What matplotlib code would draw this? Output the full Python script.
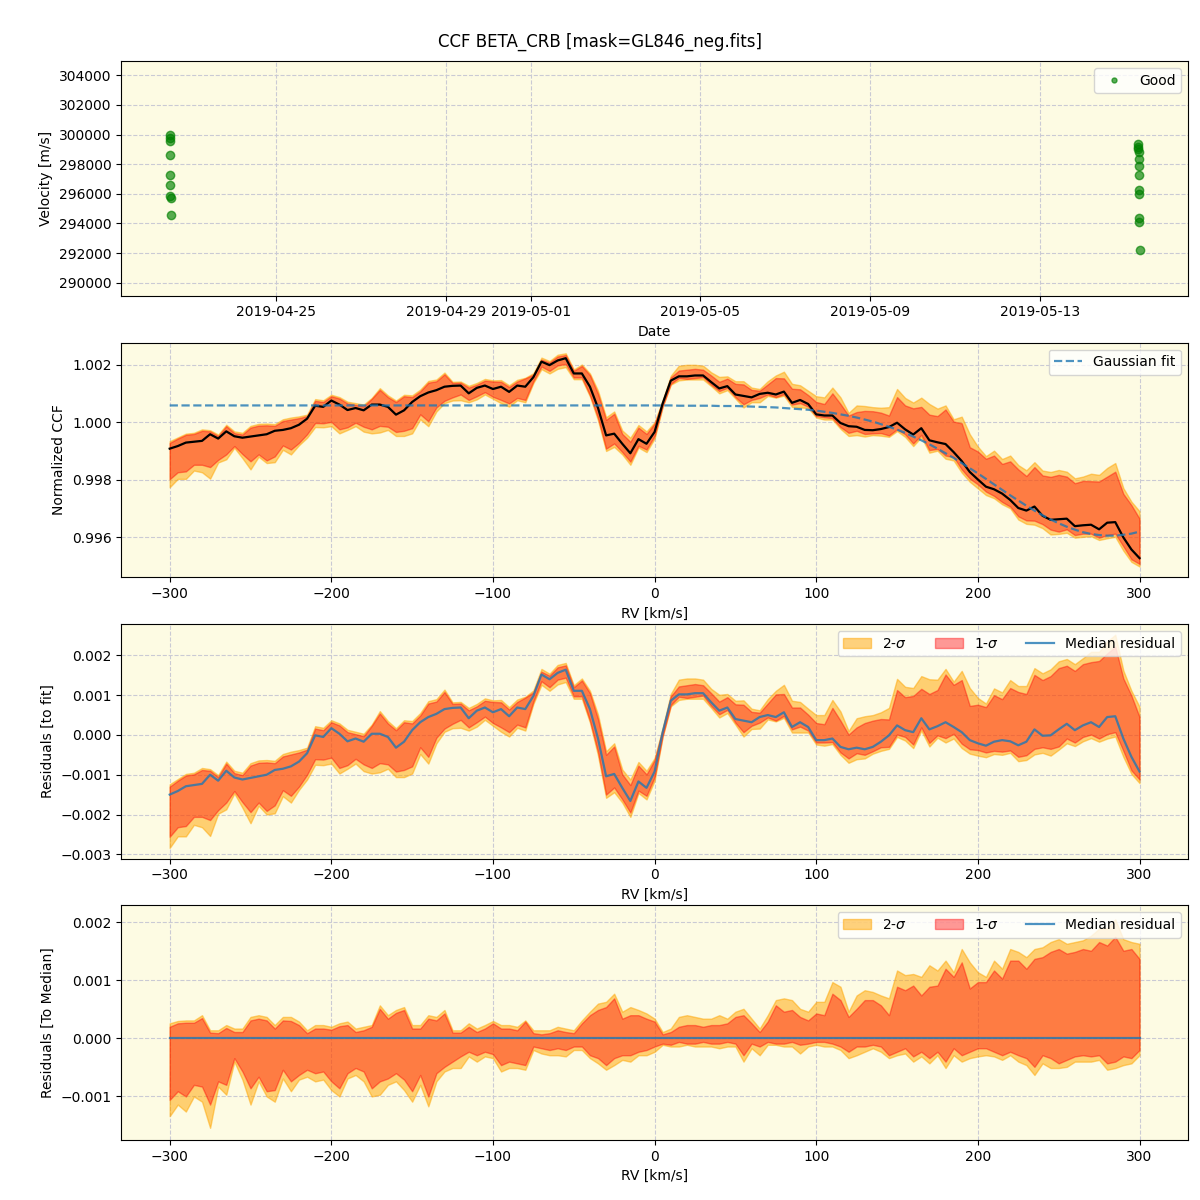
import numpy as np
import matplotlib
matplotlib.use("Agg")
import matplotlib.pyplot as plt
from matplotlib.ticker import MultipleLocator
from datetime import datetime

# --- RV time series (top panel) ---
dates_n1 = ["2019-04-22 11:40", "2019-04-22 11:44", "2019-04-22 11:48", "2019-04-22 11:52",
            "2019-04-22 11:56", "2019-04-22 12:00", "2019-04-22 12:04", "2019-04-22 12:08",
            "2019-04-22 12:12"]
vel_n1 = [299967, 299763, 299582, 298608, 297249, 296569, 295822, 295686, 294553]
dates_n2 = ["2019-05-15 07:50", "2019-05-15 07:54", "2019-05-15 07:58", "2019-05-15 08:02",
            "2019-05-15 08:06", "2019-05-15 08:10", "2019-05-15 08:14", "2019-05-15 08:18",
            "2019-05-15 08:22", "2019-05-15 08:26", "2019-05-15 08:30", "2019-05-15 08:34"]
vel_n2 = [299356, 299174, 299016, 298790, 298336, 297883, 297249, 296230, 296003,
          294372, 294100, 292220]

# --- CCF grid ---
rv = np.arange(-300, 301, 5)  # km/s

# gaussian fit (flat ~1.00058 left of 0 km/s)
gauss_fit = [1.00058] * 60 + [
    1.00058, 1.00058, 1.00058, 1.00057, 1.00057, 1.00057, 1.00057, 1.00057, 1.00056, 1.00056,
    1.00056, 1.00055, 1.00054, 1.00053, 1.00052, 1.00051, 1.00049, 1.00047, 1.00045, 1.00043,
    1.00040, 1.00036, 1.00032, 1.00027, 1.00022, 1.00016, 1.00009, 1.00002, 0.99993, 0.99984,
    0.99974, 0.99963, 0.99950, 0.99937, 0.99923, 0.99908, 0.99892, 0.99876, 0.99858, 0.99840,
    0.99822, 0.99803, 0.99784, 0.99765, 0.99746, 0.99728, 0.99710, 0.99693, 0.99677, 0.99662,
    0.99649, 0.99637, 0.99627, 0.99618, 0.99612, 0.99608, 0.99606, 0.99606, 0.99609, 0.99613,
    0.99620]

# median residual to fit, units of 1e-3
resid_med = [
    -1.50, -1.41, -1.29, -1.26, -1.23, -1.00, -1.15, -0.90, -1.07, -1.12,
    -1.08, -1.04, -1.00, -0.88, -0.85, -0.79, -0.67, -0.46, -0.01, -0.05,
    0.17, 0.03, -0.16, -0.09, -0.17, 0.03, 0.03, -0.05, -0.32, -0.17,
    0.12, 0.32, 0.45, 0.53, 0.65, 0.68, 0.69, 0.42, 0.61, 0.69,
    0.57, 0.65, 0.47, 0.69, 0.65, 0.98, 1.52, 1.40, 1.56, 1.64,
    1.11, 1.11, 0.65, -0.09, -1.04, -0.98, -1.33, -1.66, -1.17, -1.33,
    -0.92, 0.07, 0.86, 1.02, 1.02, 1.05, 1.05, 0.82, 0.61, 0.69,
    0.40, 0.36, 0.32, 0.45, 0.50, 0.45, 0.57, 0.20, 0.32, 0.20,
    -0.13, -0.13, -0.09, -0.30, -0.36, -0.32, -0.36, -0.30, -0.17, -0.01,
    0.24, 0.12, 0.07, 0.42, 0.14, 0.22, 0.32, 0.20, 0.07, -0.13,
    -0.21, -0.27, -0.17, -0.13, -0.16, -0.26, -0.17, 0.14, -0.02, -0.01,
    0.14, 0.28, 0.12, 0.24, 0.32, 0.20, 0.45, 0.47, -0.09, -0.55,
    -0.92]

# band edges relative to median, units of 1e-3
hi2 = [
    0.26, 0.30, 0.31, 0.31, 0.40, 0.14, 0.14, 0.23, 0.17, 0.17,
    0.37, 0.40, 0.37, 0.23, 0.37, 0.37, 0.29, 0.14, 0.23, 0.23,
    0.20, 0.26, 0.29, 0.17, 0.20, 0.23, 0.57, 0.40, 0.49, 0.54,
    0.23, 0.23, 0.40, 0.37, 0.49, 0.14, 0.14, 0.26, 0.17, 0.23,
    0.30, 0.23, 0.23, 0.20, 0.31, 0.14, 0.14, 0.14, 0.20, 0.17,
    0.14, 0.31, 0.46, 0.60, 0.63, 0.77, 0.46, 0.54, 0.49, 0.43,
    0.34, 0.11, 0.17, 0.37, 0.40, 0.37, 0.34, 0.34, 0.40, 0.34,
    0.46, 0.51, 0.34, 0.17, 0.40, 0.66, 0.69, 0.66, 0.51, 0.46,
    0.63, 0.63, 0.97, 0.89, 0.46, 0.74, 0.83, 0.80, 0.74, 0.69,
    1.17, 1.09, 1.11, 1.06, 1.26, 1.17, 1.34, 1.14, 1.54, 1.31,
    1.14, 1.06, 1.34, 1.20, 1.54, 1.49, 1.40, 1.54, 1.57, 1.66,
    1.71, 1.63, 1.66, 1.69, 1.77, 1.89, 1.90, 2.05, 1.71, 1.66,
    1.63]
hi1 = [
    0.20, 0.26, 0.27, 0.27, 0.35, 0.10, 0.09, 0.18, 0.11, 0.11,
    0.31, 0.34, 0.31, 0.17, 0.31, 0.30, 0.23, 0.09, 0.17, 0.17,
    0.15, 0.21, 0.23, 0.11, 0.14, 0.20, 0.51, 0.34, 0.44, 0.49,
    0.17, 0.17, 0.34, 0.31, 0.43, 0.10, 0.10, 0.20, 0.11, 0.17,
    0.26, 0.17, 0.17, 0.14, 0.29, 0.09, 0.07, 0.09, 0.14, 0.11,
    0.09, 0.26, 0.40, 0.49, 0.54, 0.69, 0.34, 0.40, 0.40, 0.34,
    0.29, 0.07, 0.11, 0.20, 0.23, 0.23, 0.20, 0.23, 0.23, 0.26,
    0.37, 0.40, 0.26, 0.11, 0.29, 0.57, 0.46, 0.49, 0.37, 0.31,
    0.43, 0.40, 0.77, 0.66, 0.37, 0.51, 0.66, 0.66, 0.57, 0.40,
    0.89, 0.83, 0.91, 0.74, 0.89, 0.91, 1.20, 1.06, 1.31, 0.86,
    0.97, 0.97, 1.17, 1.03, 1.34, 1.34, 1.20, 1.37, 1.40, 1.49,
    1.54, 1.46, 1.49, 1.54, 1.51, 1.66, 1.60, 1.75, 1.51, 1.54,
    1.37]
lo1 = [
    -1.06, -0.91, -1.00, -0.80, -0.83, -1.14, -0.74, -0.80, -0.34, -0.57,
    -0.86, -0.66, -0.91, -0.89, -0.54, -0.74, -0.63, -0.54, -0.60, -0.57,
    -0.74, -0.86, -0.60, -0.51, -0.57, -0.86, -0.74, -0.69, -0.60, -0.71,
    -0.91, -0.63, -1.00, -0.60, -0.49, -0.40, -0.31, -0.23, -0.29, -0.23,
    -0.27, -0.46, -0.40, -0.43, -0.46, -0.14, -0.17, -0.20, -0.17, -0.20,
    -0.14, -0.14, -0.29, -0.34, -0.46, -0.34, -0.29, -0.29, -0.23, -0.20,
    -0.14, -0.09, -0.11, -0.06, -0.09, -0.09, -0.06, -0.09, -0.09, -0.06,
    -0.09, -0.29, -0.09, -0.14, -0.06, -0.09, -0.09, -0.06, -0.11, -0.09,
    -0.06, -0.06, -0.09, -0.14, -0.23, -0.14, -0.14, -0.11, -0.14, -0.29,
    -0.23, -0.17, -0.31, -0.23, -0.34, -0.23, -0.40, -0.17, -0.29, -0.23,
    -0.17, -0.17, -0.23, -0.29, -0.23, -0.29, -0.34, -0.49, -0.29, -0.34,
    -0.43, -0.37, -0.31, -0.29, -0.31, -0.29, -0.43, -0.40, -0.31, -0.34,
    -0.20]
lo2 = [
    -1.34, -1.14, -1.26, -1.00, -1.09, -1.54, -0.83, -0.97, -0.40, -0.71,
    -1.14, -0.74, -1.00, -1.09, -0.69, -0.91, -0.71, -0.66, -0.74, -0.71,
    -0.89, -1.00, -0.69, -0.63, -0.74, -1.00, -0.97, -0.80, -0.74, -0.89,
    -1.09, -0.80, -1.17, -0.74, -0.57, -0.51, -0.51, -0.31, -0.40, -0.31,
    -0.34, -0.57, -0.51, -0.51, -0.54, -0.20, -0.26, -0.29, -0.29, -0.31,
    -0.20, -0.20, -0.34, -0.43, -0.54, -0.46, -0.37, -0.40, -0.29, -0.29,
    -0.23, -0.11, -0.14, -0.14, -0.11, -0.14, -0.14, -0.14, -0.17, -0.14,
    -0.14, -0.40, -0.17, -0.29, -0.11, -0.11, -0.14, -0.14, -0.26, -0.14,
    -0.11, -0.14, -0.14, -0.20, -0.34, -0.29, -0.23, -0.17, -0.23, -0.34,
    -0.29, -0.26, -0.40, -0.31, -0.43, -0.29, -0.51, -0.29, -0.40, -0.34,
    -0.31, -0.29, -0.31, -0.37, -0.29, -0.40, -0.46, -0.63, -0.43, -0.51,
    -0.51, -0.49, -0.40, -0.40, -0.40, -0.37, -0.54, -0.51, -0.46, -0.43,
    -0.29]

BG = "#fdfbe3"


def draw_bands(ax, center, with_labels):
    lab2 = "2-$\\sigma$" if with_labels else None
    lab1 = "1-$\\sigma$" if with_labels else None
    ax.fill_between(rv, center + off_lo2, center + off_hi2, color="orange", alpha=0.5, label=lab2)
    ax.fill_between(rv, center + off_lo1, center + off_hi1, color="red", alpha=0.4, label=lab1)


fit = np.array(gauss_fit)
res = np.array(resid_med) * 1e-3
off_hi2 = np.array(hi2) * 1e-3
off_hi1 = np.array(hi1) * 1e-3
off_lo1 = np.array(lo1) * 1e-3
off_lo2 = np.array(lo2) * 1e-3
ccf = fit + res

fig, axes = plt.subplots(4, 1, figsize=(12, 12), dpi=100)
fig.subplots_adjust(left=0.101, right=0.99, top=0.949, bottom=0.05, hspace=0.2)
fig.suptitle("CCF BETA_CRB [mask=GL846_neg.fits]", fontsize=12, y=0.973)

for ax in axes:
    ax.set_facecolor(BG)
    ax.grid(True, linestyle="--", color="#cacad4", linewidth=0.8)
    ax.set_axisbelow(True)

# panel 1: velocities vs date
ax = axes[0]
t_all = [datetime.strptime(s, "%Y-%m-%d %H:%M") for s in dates_n1 + dates_n2]
ax.plot(t_all, vel_n1 + vel_n2, "o", color="green", alpha=0.65, ms=6, label="Good")
ax.set_ylim(289120, 304950)
ax.ticklabel_format(axis="y", style="plain", useOffset=False)
ax.set_xlabel("Date")
ax.set_ylabel("Velocity [m/s]")
ax.legend(loc="upper right", markerscale=0.6)

# panel 2: normalized CCF
ax = axes[1]
draw_bands(ax, ccf, False)
ax.plot(rv, ccf, color="black", lw=1.6)
ax.plot(rv, fit, "--", color="tab:blue", alpha=0.8, lw=1.6, label="Gaussian fit")
ax.set_xlabel("RV [km/s]")
ax.set_ylabel("Normalized CCF")
ax.legend(loc="upper right")

# panel 3: residuals to fit
ax = axes[2]
draw_bands(ax, res, True)
ax.plot(rv, res, color="tab:blue", alpha=0.8, lw=1.6, label="Median residual")
ax.set_xlabel("RV [km/s]")
ax.set_ylabel("Residuals [to fit]")
ax.legend(loc="upper right", ncol=3)

# panel 4: residuals to median
ax = axes[3]
zero = np.zeros(len(rv))
draw_bands(ax, zero, True)
ax.plot(rv, zero, color="tab:blue", alpha=0.8, lw=1.6, label="Median residual")
ax.set_ylim(-0.00175, 0.00229)
ax.yaxis.set_major_locator(MultipleLocator(0.001))
ax.set_xlabel("RV [km/s]")
ax.set_ylabel("Residuals [To Median]")
ax.legend(loc="upper right", ncol=3)

fig.savefig("out.png", dpi=100)
